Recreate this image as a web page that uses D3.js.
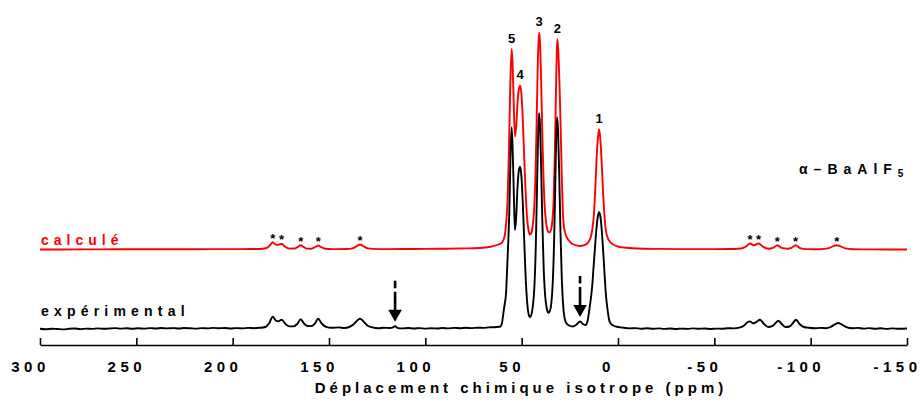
<!DOCTYPE html>
<html>
<head>
<meta charset="utf-8">
<script src="https://cdn.jsdelivr.net/npm/d3@7"></script>
<style>
  body { margin: 0; background: #fff; }
  svg text { font-family: Arial, "Liberation Sans", sans-serif; font-weight: bold; }
</style>
</head>
<body>
<script>
// readings: [ppm, intensity above own baseline]
const calcSidebandsLeft = [
  [300, 0], [280, 0.1], [260, 0.2], [240, 0.2], [220, 0.3], [200, 0.4], [190, 0.5], [184, 0.8],
  [182, 1.8], [180.5, 4.5], [179.2, 7.3], [178, 5.2], [176.6, 4.6], [174.6, 5.7], [172.8, 2.8],
  [170.5, 0.9], [168, 1], [166.2, 2.6], [164.7, 4.3], [163.2, 2.6], [161.4, 0.9], [159.2, 0.8],
  [157.2, 2.4], [155.6, 4], [154, 2.4], [152, 0.8], [148, 0.4], [141, 0.5], [137.5, 1.4],
  [135.5, 3.5], [133.9, 5], [132.3, 3.5], [130.3, 1.4], [127, 0.6], [120, 0.4], [110, 0.5],
  [100, 0.6], [90, 0.8], [80, 1.1], [72, 1.5]
];
const calcPeaks = [
  [66, 2.8], [62, 5], [60.4, 6.5], [59.4, 10], [58.6, 16], [57.8, 33], [57.3, 50], [56.6, 100],
  [55.9, 165], [55.2, 200.5], [54.7, 185], [54.1, 145], [53.5, 113], [52.8, 124], [52.1, 148],
  [51.4, 161], [50.8, 163.8], [50.2, 157], [49.5, 134], [48.8, 98], [48, 60], [47.2, 32],
  [46.5, 20], [45.8, 15], [45.1, 16], [44.4, 22], [43.6, 38], [42.9, 70], [42.3, 120],
  [41.7, 180], [41.2, 209], [40.9, 216.8], [40.5, 208], [40, 178], [39.4, 125], [38.8, 80],
  [38.1, 45], [37.3, 27], [36.5, 19], [35.7, 17], [34.9, 19], [34.1, 28], [33.4, 50],
  [32.8, 95], [32.2, 158], [31.8, 196], [31.5, 210.2], [31, 199], [30.4, 168], [29.8, 125],
  [29.2, 75], [28.6, 36], [28, 22], [27, 14], [25.5, 9], [24, 6], [22, 4.4], [19.7, 3.5],
  [17.5, 4.3], [16, 6], [14.6, 10], [13.5, 18], [12.6, 33], [11.8, 60], [11.1, 92],
  [10.4, 112], [9.8, 120.2], [9.2, 111], [8.5, 88], [7.8, 60], [7.1, 36], [6.3, 19],
  [5.2, 11], [4.2, 7.8], [2.5, 5], [0, 3], [-3, 2]
];
const calcSidebandsRight = [
  [-10, 1], [-20, 0.6], [-35, 0.4], [-50, 0.4], [-60, 0.5], [-64, 1], [-66.5, 3], [-68.5, 6],
  [-70.6, 4.3], [-73, 6], [-75.4, 2.6], [-78, 0.8], [-80.5, 1.6], [-82.7, 4.3], [-84.9, 1.6],
  [-88, 0.8], [-90, 1.6], [-92.2, 4.3], [-94.5, 1.4], [-98, 0.4], [-105, 0.3], [-109, 1.1],
  [-111.5, 3.2], [-113.5, 4.3], [-115.5, 3.2], [-118, 1.1], [-122, 0.3], [-130, 0.1], [-150, 0]
];

const expSidebandsLeft = [
  [300, 0.2], [297, -0.3], [294, 0.3], [291, 0], [288, -0.4], [285, 0.2], [282, 0.5], [279, -0.1],
  [276, 0.4], [273, 0.1], [270, 0.6], [267, 0.2], [264, 0.5], [261, 0.9], [258, 0.4], [255, 0.8],
  [252, 0.3], [249, 0.7], [246, 0.4], [243, 0.9], [240, 0.5], [237, 1], [234, 0.6], [231, 0.9],
  [228, 0.5], [225, 1], [222, 0.7], [219, 0.4], [216, 0.9], [213, 0.6], [210, 1.1], [207, 0.7],
  [204, 1], [201, 0.5], [198, 0.9], [195, 0.6], [192, 1.1], [189, 0.8], [186, 1.2], [183, 2],
  [181, 6], [179.2, 12.3], [177.6, 8.5], [176.3, 7.6], [174.6, 9.3], [172.6, 5], [170.6, 2.6],
  [168.5, 2.6], [166.5, 5], [164.7, 9.7], [163, 5.5], [161.1, 3], [159.4, 2.9], [157.4, 5.2],
  [155.6, 10.3], [153.8, 5.5], [151.5, 2.2], [148.5, 1.2], [145, 1.6], [142, 1], [139.5, 2],
  [137.5, 4.2], [135.6, 8], [133.9, 10.3], [132.1, 7.5], [130.1, 3.6], [127.5, 1.6], [124.5, 0.8],
  [121.5, 1.3], [118.5, 1], [116.8, 1.6], [115.7, 2.8], [114.5, 1.2], [112, 0.6], [109, 1],
  [106, 0.5], [103, 0.9], [100, 0.4], [97, 0.8], [94, 0.5], [91, 1], [88, 0.6], [85, 1.1],
  [82, 0.8], [79, 1.2], [76, 0.9], [73, 1.3], [70, 1.1], [67, 1.6], [64, 1.8], [62, 2.2], [61, 2.5]
];
const expPeaks = [
  [60.2, 6], [59.5, 15.7], [58.8, 25], [58.1, 36], [57.5, 62], [56.9, 90], [56.4, 118],
  [55.8, 172], [55.2, 201.7], [54.6, 175], [54, 130], [53.5, 99], [52.9, 110], [52.2, 140],
  [51.5, 158], [50.8, 162.3], [50.1, 152], [49.4, 125], [48.7, 90], [48, 55], [47.2, 28],
  [46.4, 15], [45.7, 12], [45, 14], [44.2, 23], [43.4, 42], [42.7, 80], [42.1, 135],
  [41.5, 190], [41, 215.7], [40.5, 205], [40, 170], [39.3, 110], [38.6, 62], [37.8, 33],
  [37, 21], [36.2, 16.3], [35.4, 18], [34.6, 26], [33.9, 45], [33.2, 85], [32.6, 140],
  [32.1, 190], [31.6, 211.7], [31.1, 198], [30.5, 155], [29.9, 100], [29.2, 52], [28.4, 22],
  [27.5, 9], [26.5, 5], [25.3, 3.5], [23.5, 2.5], [21.5, 4.5], [19.7, 7.5], [18.2, 5],
  [16.8, 4], [15.8, 8], [14.9, 19], [14, 32], [13.3, 45], [12.8, 59], [12, 80], [11.2, 100],
  [10.5, 112], [9.8, 116.7], [9.1, 112], [8.4, 98], [7.7, 78], [7.1, 59], [6.3, 35],
  [5.4, 19], [4.7, 10], [4, 6], [2.5, 3.5], [0, 2]
];
const expSidebandsRight = [
  [-3, 1.2], [-6, 0.6], [-9, 0.9], [-12, 0.3], [-15, 0.7], [-18, 0.2], [-21, 0.6], [-24, 0.1],
  [-27, 0.5], [-30, 0], [-33, 0.4], [-36, 0.1], [-39, 0.6], [-42, 0.2], [-45, 0.5], [-48, 0],
  [-51, 0.4], [-54, 0.3], [-57, 0.8], [-60, 0.6], [-63, 1.4], [-65.5, 3.5], [-67.2, 6.8],
  [-68.5, 7.6], [-70.2, 5.6], [-71.9, 7.2], [-73.7, 9.3], [-75.8, 5], [-78, 2], [-80, 2.8],
  [-81.8, 6], [-83.2, 8.3], [-85, 5], [-87, 2], [-89, 2.5], [-90.8, 6], [-92.4, 9.3],
  [-94.2, 5], [-96.5, 2], [-99, 1.2], [-102, 0.7], [-105, 1.1], [-108, 0.8], [-110.3, 2],
  [-112.5, 4.6], [-114.3, 6], [-116.2, 4.4], [-118.6, 1.8], [-121.5, 0.7], [-124.5, 1.1],
  [-127.5, 0.4], [-130.5, 0.9], [-133.5, 0.2], [-136.5, 0.7], [-139.5, 0.1], [-142.5, 0.6],
  [-145.5, 0.2], [-150, 0.5]
];

const peakPpm = [9.8, 31.5, 40.9, 50.8, 55.2];
const peakLabels = ['1', '2', '3', '4', '5'];
const starPpm = [179.2, 174.6, 164.7, 155.6, 133.9, -68.5, -73, -82.7, -92.2, -113.5];
const arrowPpm = [115.7, 19.7];
const tickValues = [300, 250, 200, 150, 100, 50, 0, -50, -100, -150];

const calcSpectrum = calcSidebandsLeft.concat(calcPeaks, calcSidebandsRight);
const expSpectrum = expSidebandsLeft.concat(expPeaks, expSidebandsRight);

const W = 924, H = 403;
const calcOffset = 79.5; // red trace is stacked above the black one

const x = d3.scaleLinear().domain([300, -150]).range([40, 907]);
const y = d3.scaleLinear().domain([0, 300]).range([329, 29]);

// value of a trace at (nearest) ppm
const at = (data, ppm) => data.reduce((a, b) => Math.abs(b[0] - ppm) < Math.abs(a[0] - ppm) ? b : a)[1];

const svg = d3.select('body').append('svg')
  .attr('width', W)
  .attr('height', H)
  .style('background', '#fff');

const trace = (off) => d3.line()
  .x(d => x(d[0]))
  .y(d => y(d[1] + off))
  .curve(d3.curveMonotoneX);

svg.append('path')
  .datum(calcSpectrum)
  .attr('d', trace(calcOffset))
  .attr('fill', 'none')
  .attr('stroke', '#ff0000')
  .attr('stroke-width', 1.9)
  .attr('stroke-linejoin', 'round');

svg.append('path')
  .datum(expSpectrum)
  .attr('d', trace(0))
  .attr('fill', 'none')
  .attr('stroke', '#000')
  .attr('stroke-width', 1.9)
  .attr('stroke-linejoin', 'round');

// axis, ticks pointing up
const axis = d3.axisBottom(x)
  .tickValues(tickValues)
  .tickFormat(d => String(d))
  .tickSizeInner(-7)
  .tickSizeOuter(0)
  .tickPadding(16);

const gx = svg.append('g')
  .attr('transform', 'translate(0,345)')
  .call(axis);
gx.select('.domain').attr('stroke', '#000').attr('stroke-width', 1.6);
gx.selectAll('.tick line').attr('stroke', '#000').attr('stroke-width', 1.6);
gx.selectAll('.tick text')
  .attr('fill', '#000')
  .style('font-size', '15px')
  .attr('letter-spacing', 4.5)
  .attr('dx', -10);

svg.append('text')
  .attr('x', 521)
  .attr('y', 393)
  .attr('text-anchor', 'middle')
  .attr('letter-spacing', 4)
  .style('font-size', '15px')
  .text('Déplacement chimique isotrope (ppm)');

// peak numbers
svg.selectAll('.peak-label')
  .data(peakPpm)
  .join('text')
  .attr('class', 'peak-label')
  .attr('x', d => x(d))
  .attr('y', d => y(at(calcSpectrum, d) + calcOffset) - 6.5)
  .attr('text-anchor', 'middle')
  .style('font-size', '13px')
  .text((d, i) => peakLabels[i]);

// spinning sidebands
svg.selectAll('.star')
  .data(starPpm)
  .join('text')
  .attr('class', 'star')
  .attr('x', d => x(d))
  .attr('y', d => y(at(calcSpectrum, d) + calcOffset) + 0.5)
  .attr('text-anchor', 'middle')
  .style('font-size', '13px')
  .text('*');

// arrows
arrowPpm.forEach(p => {
  const cx = x(p);
  const tip = y(at(expSpectrum, p)) - 4.5;
  svg.append('line')
    .attr('x1', cx).attr('x2', cx)
    .attr('y1', tip - 41).attr('y2', tip - 11)
    .attr('stroke', '#000')
    .attr('stroke-width', 2.6)
    .attr('stroke-dasharray', '7.5,3.5,40');
  svg.append('path')
    .attr('d', `M${cx - 6.8},${tip - 12}L${cx + 6.8},${tip - 12}L${cx},${tip}Z`)
    .attr('fill', '#000');
});

// trace names
svg.append('text')
  .attr('x', 41)
  .attr('y', 245)
  .attr('fill', '#ff0000')
  .attr('letter-spacing', 5)
  .style('font-size', '14px')
  .text('calculé');

svg.append('text')
  .attr('x', 41)
  .attr('y', 316)
  .attr('fill', '#000')
  .attr('letter-spacing', 5.2)
  .style('font-size', '14px')
  .text('expérimental');

const compound = svg.append('text')
  .attr('x', 799)
  .attr('y', 174)
  .attr('letter-spacing', 6)
  .style('font-size', '14px');
compound.append('tspan').text('α–BaAlF');
compound.append('tspan')
  .attr('dy', 3)
  .style('font-size', '10px')
  .text('5');
</script>
</body>
</html>
